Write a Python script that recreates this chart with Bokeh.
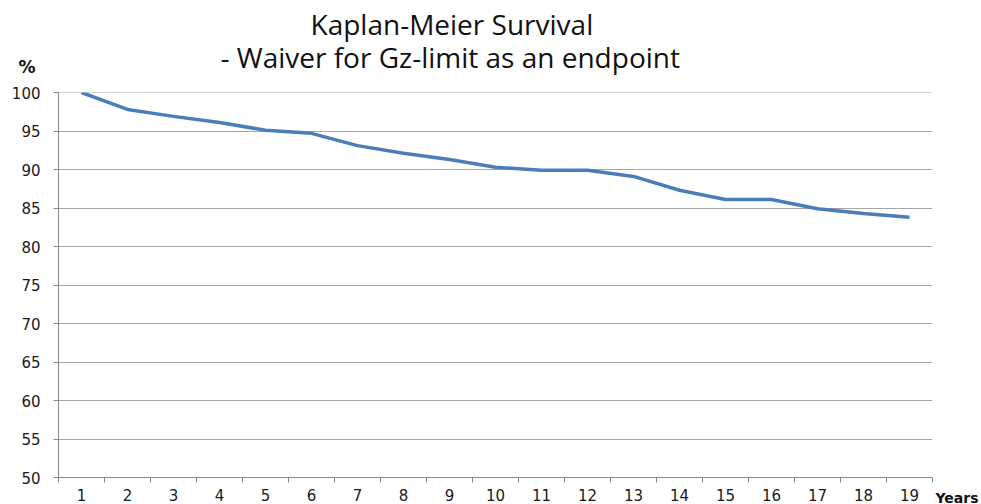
from bokeh.plotting import figure
from bokeh.models import FixedTicker, Range1d, Title
from bokeh.embed import file_html
from bokeh.resources import INLINE

years = list(range(1, 20))
year_labels = [str(y) for y in years]
survival = [100.0, 97.8, 96.9, 96.1, 95.1, 94.7, 93.1, 92.1, 91.3, 90.3,
            89.9, 89.9, 89.1, 87.3, 86.1, 86.1, 84.9, 84.3, 83.8]
y_ticks = list(range(50, 101, 5))
title_lines = ["Kaplan-Meier Survival", "- Waiver for Gz-limit as an endpoint"]
y_unit = "%"
x_unit = "Years"

W, H = 981, 504
p = figure(width=W, height=H, output_backend="svg", toolbar_location=None,
           x_range=Range1d(0.5, 19.5), y_range=Range1d(50, 100.001),
           min_border_left=58, min_border_right=49, min_border_top=92, min_border_bottom=27)
p.outline_line_color = None
p.background_fill_color = "white"
p.border_fill_color = "white"

p.line(years, survival, line_color="#4a7ebb", line_width=3.5)

grid_col = "#a6a6a6"
axis_col = "#868686"
# x axis (category style: labels at centres, ticks between)
p.xaxis.ticker = FixedTicker(ticks=years, minor_ticks=[y - 0.5 for y in years] + [19.5])
p.xaxis.major_label_overrides = {y: l for y, l in zip(years, year_labels)}
p.xaxis.major_tick_out = 0
p.xaxis.major_tick_in = 0
p.xaxis.minor_tick_out = 5
p.xaxis.minor_tick_in = 0
p.xaxis.minor_tick_line_color = axis_col
p.xaxis.axis_line_color = axis_col
p.xaxis.major_label_standoff = 6
p.xgrid.grid_line_color = None
# y axis
p.yaxis.ticker = FixedTicker(ticks=y_ticks)
p.yaxis.major_tick_out = 5
p.yaxis.major_tick_in = 0
p.yaxis.minor_tick_line_color = None
p.yaxis.major_tick_line_color = axis_col
p.yaxis.axis_line_color = axis_col
p.yaxis.major_label_standoff = 13
p.ygrid.ticker = FixedTicker(ticks=y_ticks)
p.ygrid.grid_line_color = grid_col

for ax in (p.xaxis, p.yaxis):
    ax.major_label_text_font = "DejaVu Sans"
    ax.major_label_text_font_size = "15px"
    ax.major_label_text_color = "#1a1a1a"

# titles (stacked above the frame; first added is closest to the frame)
p.add_layout(Title(text=title_lines[1], align="left", offset=162, standoff=34,
                   vertical_align="bottom", text_font="Open Sans", text_font_size="28px",
                   text_font_style="normal", text_color="#111111"), "above")
p.add_layout(Title(text=title_lines[0], align="left", offset=252, standoff=-48,
                   vertical_align="bottom", text_font="Open Sans", text_font_size="28px",
                   text_font_style="normal", text_color="#111111"), "above")
p.add_layout(Title(text=y_unit, align="left", offset=-40, standoff=-116,
                   vertical_align="bottom", text_font="DejaVu Sans", text_font_size="17px",
                   text_font_style="bold", text_color="#111111"), "above")
p.add_layout(Title(text=x_unit, align="left", offset=877, standoff=-28,
                   vertical_align="top", text_font="DejaVu Sans", text_font_size="14px",
                   text_font_style="bold", text_color="#111111"), "below")

open("out.html", "w").write(file_html(p, INLINE))
